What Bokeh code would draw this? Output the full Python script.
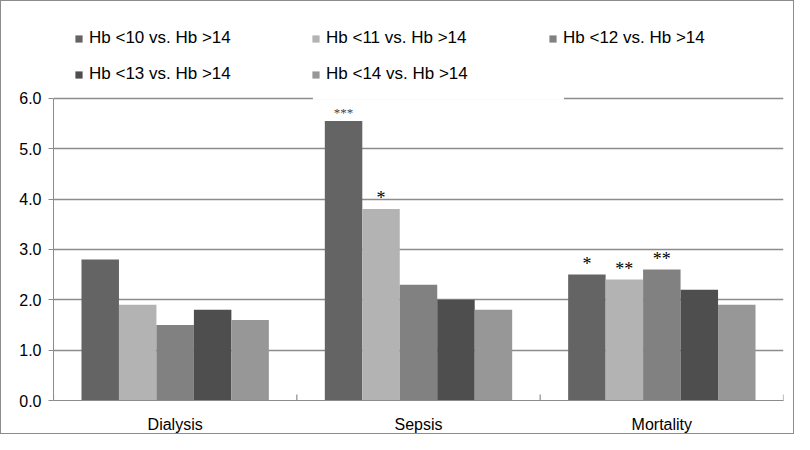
from bokeh.plotting import figure
from bokeh.models import (ColumnDataSource, Legend, LegendItem, Range1d, FixedTicker,
                          BoxAnnotation, LabelSet, CustomJSTickFormatter)
from bokeh.embed import file_html
from bokeh.resources import INLINE

categories = ["Dialysis", "Sepsis", "Mortality"]
series = ["Hb <10 vs. Hb >14", "Hb <11 vs. Hb >14", "Hb <12 vs. Hb >14",
          "Hb <13 vs. Hb >14", "Hb <14 vs. Hb >14"]
hb10 = [2.8, 5.55, 2.5]
hb11 = [1.9, 3.8, 2.4]
hb12 = [1.5, 2.3, 2.6]
hb13 = [1.8, 2.0, 2.2]
hb14 = [1.6, 1.8, 1.9]
values = [hb10, hb11, hb12, hb13, hb14]
sig = [["", "***", "*"], ["", "*", "**"], ["", "", "**"], ["", "", ""], ["", "", ""]]
yticks = [0, 1, 2, 3, 4, 5, 6]

# styles
colors = ["#646464", "#b3b3b3", "#818181", "#4e4e4e", "#979797"]
FONT = "Liberation Sans"
TXT = "#000000"
AX = "#8c8c8c"

p = figure(width=794, height=434, output_backend="svg", toolbar_location=None,
           x_range=Range1d(0, 3), y_range=Range1d(0, 7.882))
p.min_border_left = 52
p.min_border_right = 12
p.min_border_top = 2
p.min_border_bottom = 30
p.outline_line_color = None
p.background_fill_color = "white"
p.border_fill_color = "white"
p.styles = {"border": "1px solid #8c8c8c", "box-sizing": "border-box"}

p.xgrid.visible = False
p.ygrid.ticker = FixedTicker(ticks=yticks)
p.ygrid.grid_line_color = AX
p.ygrid.grid_line_width = 1.5

bw = 0.154
items = []
for i, (name, vals, col) in enumerate(zip(series, values, colors)):
    xs = [k + 0.5 + (i - 2) * bw for k in range(len(categories))]
    fs = ["13px" if s == "***" else "18px" for s in sig[i]]
    tc = ["#444444" if s == "***" else "#000000" for s in sig[i]]
    src = ColumnDataSource(dict(x=xs, top=vals, s=sig[i], fs=fs, tc=tc))
    r = p.vbar(x="x", top="top", width=bw, source=src, fill_color=col, line_color=None)
    items.append(LegendItem(label=name, renderers=[r]))
    lab = LabelSet(x="x", y="top", text="s", source=src, text_align="center",
                   text_baseline="bottom", y_offset=1, text_font="DejaVu Sans",
                   text_font_size="fs", text_color="tc")
    p.add_layout(lab)

# white gap in top gridline behind the legend box (as in reference)
p.add_layout(BoxAnnotation(left=1.066, right=2.098, bottom=5.97, top=6.03,
                           fill_color="white", fill_alpha=1, line_color=None,
                           level="overlay"))

legend = Legend(items=items, ncols=3, location=(21, 316), orientation="horizontal")
legend.label_text_font = FONT
legend.label_text_font_size = "17px"
legend.label_text_color = TXT
legend.glyph_width = 9
legend.glyph_height = 9
legend.label_standoff = 6
legend.label_width = 206
legend.spacing = 16
legend.label_height = 18
legend.margin = 0
legend.padding = 12
legend.border_line_color = None
legend.background_fill_alpha = 0
p.add_layout(legend, "center")

p.yaxis.ticker = FixedTicker(ticks=yticks)
p.yaxis.bounds = (0, 6)
p.yaxis.formatter = CustomJSTickFormatter(code="return tick.toFixed(1);")
p.yaxis.axis_line_color = AX
p.yaxis.major_tick_line_color = AX
p.yaxis.major_tick_out = 5
p.yaxis.major_tick_in = 0
p.yaxis.minor_tick_line_color = None
p.yaxis.major_label_text_font = FONT
p.yaxis.major_label_text_font_size = "16px"
p.yaxis.major_label_text_color = TXT
p.yaxis.major_label_standoff = 7

p.xaxis.ticker = FixedTicker(ticks=[0.5, 1.5, 2.5])
p.xaxis.major_label_overrides = {0.5: categories[0], 1.5: categories[1], 2.5: categories[2]}
p.xaxis.major_tick_line_color = None
p.xaxis.minor_tick_line_color = None
p.xaxis.axis_line_color = AX
p.xaxis.major_label_text_font = FONT
p.xaxis.major_label_text_font_size = "16px"
p.xaxis.major_label_text_color = TXT
p.xaxis.major_label_standoff = 9

# category-boundary ticks on the x axis
bsrc = ColumnDataSource(dict(x=[0, 1, 2, 3], y0=[0, 0, 0, 0]))
p.scatter(x="x", y="y0", source=bsrc, marker="dash", angle=1.5708, size=12,
          line_color=AX, line_width=1.2)

open("out.html", "w").write(file_html(p, INLINE))
